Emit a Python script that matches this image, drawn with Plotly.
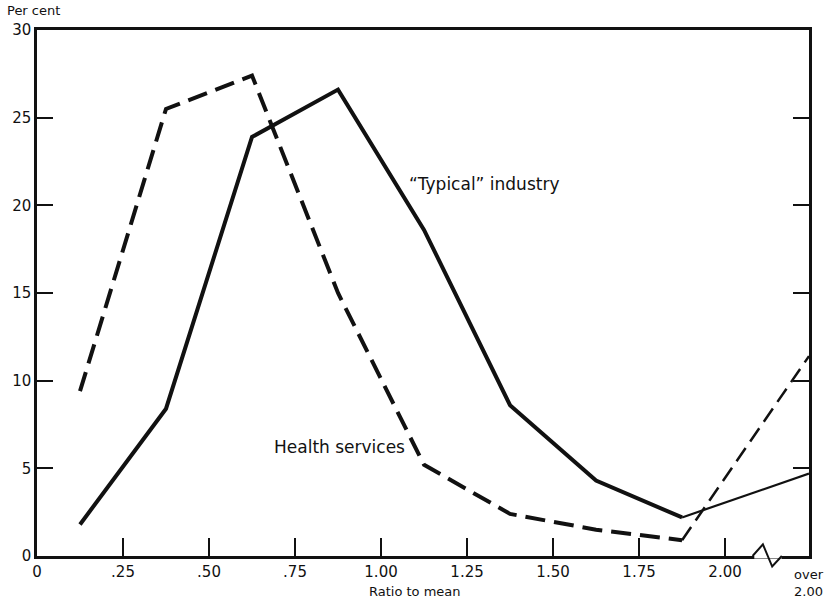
import plotly.graph_objects as go

# Ratio-to-mean class midpoints, plus the position used for the "over 2.00" class
class_mid = [0.125, 0.375, 0.625, 0.875, 1.125, 1.375, 1.625, 1.875]
over_pos = 2.244
typical = [1.8, 8.4, 23.9, 26.6, 18.6, 8.6, 4.3, 2.2]
typical_over = 4.7
health = [9.4, 25.5, 27.4, 15.0, 5.2, 2.4, 1.5, 0.9]
health_over = 11.4

x_tickvals = [0, 0.25, 0.5, 0.75, 1.0, 1.25, 1.5, 1.75, 2.0]
x_ticktext = ["0", ".25", ".50", ".75", "1.00", "1.25", "1.50", "1.75", "2.00"]
y_tickvals = [0, 5, 10, 15, 20, 25, 30]

FONT = "DejaVu Sans"
BLACK = "#111111"

fig = go.Figure()
fig.add_trace(go.Scatter(x=class_mid, y=health, mode="lines",
                         line=dict(color=BLACK, width=4, dash="20px,9px"),
                         cliponaxis=False, showlegend=False))
fig.add_trace(go.Scatter(x=[class_mid[-1], over_pos], y=[health[-1], health_over], mode="lines",
                         line=dict(color=BLACK, width=2.5, dash="16px,8px"),
                         cliponaxis=False, showlegend=False))
fig.add_trace(go.Scatter(x=class_mid, y=typical, mode="lines",
                         line=dict(color=BLACK, width=4),
                         cliponaxis=False, showlegend=False))
fig.add_trace(go.Scatter(x=[class_mid[-1], over_pos], y=[typical[-1], typical_over], mode="lines",
                         line=dict(color=BLACK, width=2.2),
                         cliponaxis=False, showlegend=False))

fig.update_layout(
    width=826, height=599,
    margin=dict(l=37, r=17, t=30, b=43),
    paper_bgcolor="white", plot_bgcolor="white",
    font=dict(family=FONT, size=14, color=BLACK),
    xaxis=dict(range=[0, over_pos], tickvals=x_tickvals, ticktext=x_ticktext,
               showgrid=False, zeroline=False, showline=True, linecolor=BLACK, linewidth=2.5,
               mirror=True, ticks="inside", ticklen=18, tickwidth=2, tickcolor=BLACK,
               tickfont=dict(size=15)),
    yaxis=dict(range=[0, 30], tickvals=y_tickvals,
               showgrid=False, zeroline=False, showline=True, linecolor=BLACK, linewidth=2.5,
               mirror="ticks", ticks="inside", ticklen=16, tickwidth=2, tickcolor=BLACK,
               tickfont=dict(size=15)),
    annotations=[
        dict(text="Per cent", xref="paper", yref="paper", x=-0.042, y=1.0, yshift=10,
             xanchor="left", yanchor="bottom", showarrow=False, font=dict(size=13)),
        dict(text="Ratio to mean", xref="x", yref="paper", x=1.1, y=0, yshift=-26,
             xanchor="center", yanchor="top", showarrow=False, font=dict(size=13)),
        dict(text="over<br>2.00", xref="x", yref="paper", x=over_pos, y=0, yshift=-9,
             xanchor="center", yanchor="top", showarrow=False, align="center",
             font=dict(size=13)),
        dict(text="\u201cTypical\u201d industry", xref="x", yref="y", x=1.075, y=21.2,
             xanchor="left", yanchor="middle", showarrow=False, font=dict(size=17)),
        dict(text="Health services", xref="x", yref="y", x=0.683, y=6.2,
             xanchor="left", yanchor="middle", showarrow=False, font=dict(size=17)),
    ],
    shapes=[
        dict(type="line", xref="x", yref="paper", x0=2.085, x1=2.165, y0=0, y1=0,
             line=dict(color="white", width=5), layer="above"),
        dict(type="path", xref="x", yref="paper",
             path="M 2.08,0 L 2.11,0.022 L 2.137,-0.02 L 2.165,0",
             line=dict(color=BLACK, width=2), layer="above"),
    ],
)

fig.write_html("out.html", config={"displayModeBar": False},
               post_script="document.body.style.margin='0px';document.body.style.padding='0px';")
